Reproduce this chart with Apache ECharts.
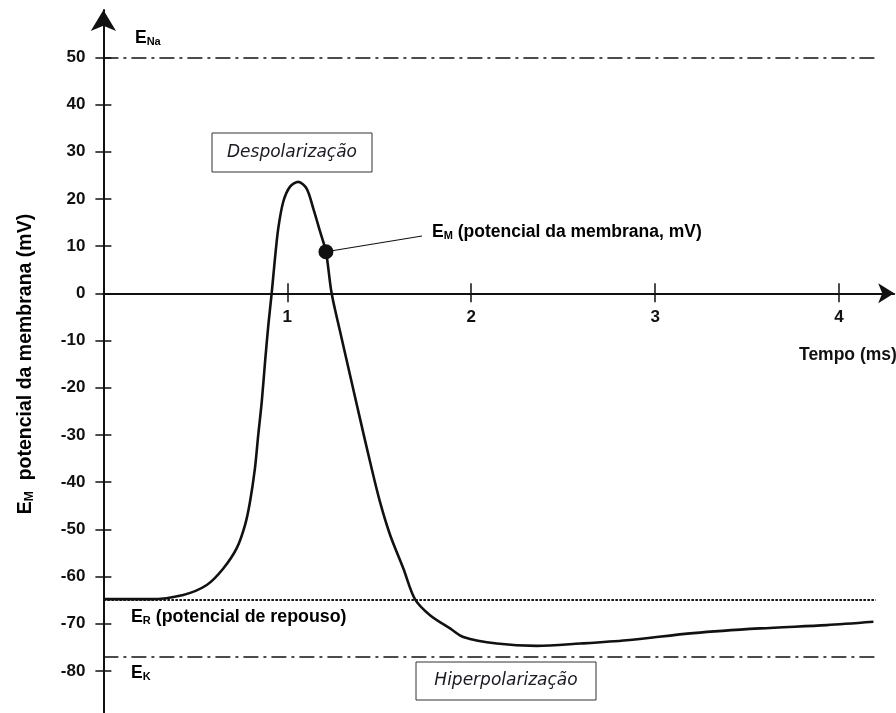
<!DOCTYPE html>
<html>
<head>
<meta charset="utf-8">
<script src="https://cdn.jsdelivr.net/npm/echarts@6/dist/echarts.min.js"></script>
<style>
  html, body { margin: 0; padding: 0; background: #ffffff; }
  #chart { width: 896px; height: 713px; }
</style>
</head>
<body>
<div id="chart"></div>
<script>
// Action potential trace: time (ms) and membrane potential (mV)
const timeMs = [0, 0.253, 0.434, 0.562, 0.652, 0.725, 0.770, 0.797, 0.824, 0.842, 0.861, 0.879,
  0.897, 0.915, 0.933, 0.951, 0.978, 1.015, 1.060, 1.105, 1.141, 1.178, 1.21, 1.241, 1.287,
  1.341, 1.395, 1.450, 1.504, 1.559, 1.631, 1.694, 1.776, 1.885, 1.957, 2.139, 2.356, 2.592,
  2.846, 3.208, 3.570, 3.933, 4.187];
const membraneMv = [-64.8, -64.8, -63.9, -61.8, -58.3, -54.0, -49.1, -44.2, -37.1, -30.0, -23.0, -14.5,
  -6.7, 0, 7.4, 13.8, 19.4, 22.6, 23.6, 22.2, 18.0, 13.1, 8.8, 0, -8.1,
  -17.3, -26.5, -35.7, -44.2, -51.2, -58.3, -64.8, -68.2, -71.0, -72.8, -74.2, -74.7, -74.2,
  -73.5, -72.0, -71.0, -70.3, -69.6];

// Highlighted sample on the falling phase
const markerPoint = [1.21, 8.8];

// Equilibrium / resting potentials (mV)
const eNa = 50;
const eRest = -65;
const eK = -77;

// Axis ticks
const yTicks = [-80, -70, -60, -50, -40, -30, -20, -10, 0, 10, 20, 30, 40, 50];
const xTicks = [1, 2, 3, 4];

const ink = '#111111';
const sans = '"Liberation Sans", Arial, sans-serif';
const humanist = '"DejaVu Sans", Verdana, sans-serif';
const dashDot = [15, 5, 3, 5];
const xEnd = 4.2;

// Plot frame (px) and value ranges
const W = 896, H = 713;
const gridLeft = 103.4, gridRight = 1.8, gridTop = 10.1, gridBottom = -5.1;
const xMin = 0, xMax = 4.3, yMin = -90, yMax = 60;
const plotW = W - gridLeft - gridRight;
const plotH = H - gridTop - gridBottom;
// distance from the top / bottom frame edges to the zero line
const zeroFromTop = plotH * (yMax - 0) / (yMax - yMin);
const zeroFromBottom = plotH - zeroFromTop;

const chart = echarts.init(document.getElementById('chart'));

const tickLine = { color: ink, width: 1.5 };

const option = {
  animation: false,
  backgroundColor: '#ffffff',
  grid: { left: gridLeft, right: gridRight, top: gridTop, bottom: gridBottom,
    outerBoundsMode: 'none', containLabel: false },
  xAxis: [
    {
      // time axis drawn on the 0 mV line: line, downward ticks, labels below
      type: 'value', min: xMin, max: xMax, position: 'top', offset: -zeroFromTop,
      axisLine: { onZero: false, lineStyle: { color: ink, width: 2 },
        symbol: ['none', 'arrow'], symbolSize: [15, 16] },
      axisTick: { show: true, inside: true, length: 9, lineStyle: tickLine, customValues: xTicks },
      axisLabel: { inside: true, customValues: xTicks, margin: 16, fontSize: 17, fontWeight: 'bold',
        color: ink, fontFamily: sans },
      splitLine: { show: false }
    },
    {
      // upward half of the crossing ticks
      type: 'value', min: xMin, max: xMax, position: 'bottom', offset: -zeroFromBottom,
      axisLine: { show: false, onZero: false },
      axisTick: { show: true, inside: true, length: 10, lineStyle: tickLine, customValues: xTicks },
      axisLabel: { show: false },
      splitLine: { show: false }
    }
  ],
  yAxis: [
    {
      type: 'value', min: yMin, max: yMax, position: 'left',
      axisLine: { onZero: false, lineStyle: { color: ink, width: 2 },
        symbol: ['none', 'arrow'], symbolSize: [19, 21] },
      axisTick: { show: true, inside: false, length: 8, lineStyle: tickLine, customValues: yTicks },
      axisLabel: { customValues: yTicks, margin: 18, fontSize: 17, fontWeight: 'bold',
        color: ink, fontFamily: sans },
      splitLine: { show: false }
    },
    {
      // right-pointing half of the crossing ticks, moved onto the left axis line
      type: 'value', min: yMin, max: yMax, position: 'right', offset: -plotW,
      axisLine: { show: false, onZero: false },
      axisTick: { show: true, inside: false, length: 8, lineStyle: tickLine, customValues: yTicks },
      axisLabel: { show: false },
      splitLine: { show: false }
    }
  ],
  series: [
    {
      type: 'line',
      xAxisIndex: 0, yAxisIndex: 0,
      data: timeMs.map((t, i) => [t, membraneMv[i]]),
      smooth: 0.3,
      showSymbol: false,
      lineStyle: { color: ink, width: 2.6 },
      z: 5,
      markLine: {
        silent: true,
        symbol: ['none', 'none'],
        label: { show: false },
        animation: false,
        data: [
          [{ coord: [0, eNa], lineStyle: { type: dashDot, width: 1.6, color: ink } }, { coord: [xEnd, eNa] }],
          [{ coord: [0, eRest], lineStyle: { type: [2.5, 1.5], width: 2, color: ink } }, { coord: [xEnd, eRest] }],
          [{ coord: [0, eK], lineStyle: { type: dashDot, width: 1.6, color: ink } }, { coord: [xEnd, eK] }]
        ]
      }
    },
    {
      type: 'scatter',
      xAxisIndex: 0, yAxisIndex: 0,
      data: [markerPoint],
      symbolSize: 15,
      itemStyle: { color: ink, opacity: 1 },
      z: 6
    }
  ]
};

chart.setOption(option);

// Annotations placed relative to the plot's coordinate system
const toPx = (pt) => chart.convertToPixel({ seriesIndex: 0 }, pt);
const markerPx = toPx(markerPoint);

const labelRich = (size) => ({
  e: { fontSize: size, fontWeight: 'bold', fontFamily: sans, color: ink, verticalAlign: 'bottom' },
  s: { fontSize: Math.round(size * 0.64), fontWeight: 'bold', fontFamily: sans, color: ink, verticalAlign: 'bottom' }
});

function subLabel(x, y, text, size) {
  return {
    type: 'text', x: x, y: y, z: 10,
    style: { text: text, rich: labelRich(size), align: 'left', verticalAlign: 'middle' }
  };
}

function boxedLabel(x, y, w, h, text) {
  return {
    type: 'group', x: x, y: y, z: 10,
    children: [
      { type: 'rect', shape: { x: 0, y: 0, width: w, height: h },
        style: { fill: '#ffffff', stroke: '#333333', lineWidth: 1 } },
      { type: 'text', x: w / 2, y: h / 2,
        style: { text: text, fontSize: 17, fontStyle: 'italic', fontFamily: humanist,
          fill: '#1a1a24', align: 'center', verticalAlign: 'middle' } }
    ]
  };
}

chart.setOption({
  graphic: [
    subLabel(135, 38, '{e|E}{s|Na}', 17.5),
    subLabel(131, 617, '{e|E}{s|R}{e| (potencial de repouso)}', 17.8),
    subLabel(131, 673, '{e|E}{s|K}', 17.5),
    subLabel(432, 232, '{e|E}{s|M}{e| (potencial da membrana, mV)}', 17.5),
    {
      type: 'text', x: 799, y: 355, z: 10,
      style: { text: 'Tempo (ms)', fontSize: 17.5, fontWeight: 'bold', fontFamily: sans,
        fill: ink, align: 'left', verticalAlign: 'middle' }
    },
    {
      type: 'text', x: 26, y: 364, rotation: Math.PI / 2, z: 10,
      style: { text: '{e|E}{s|M}{e|  potencial da membrana (mV)}', rich: labelRich(19.5),
        align: 'center', verticalAlign: 'middle' }
    },
    {
      type: 'line', z: 4,
      shape: { x1: markerPx[0], y1: markerPx[1], x2: 422, y2: 236 },
      style: { stroke: ink, lineWidth: 1.2 }
    },
    boxedLabel(212, 133, 160, 39, 'Despolarização'),
    boxedLabel(416, 662, 180, 38, 'Hiperpolarização')
  ]
});
</script>
</body>
</html>
